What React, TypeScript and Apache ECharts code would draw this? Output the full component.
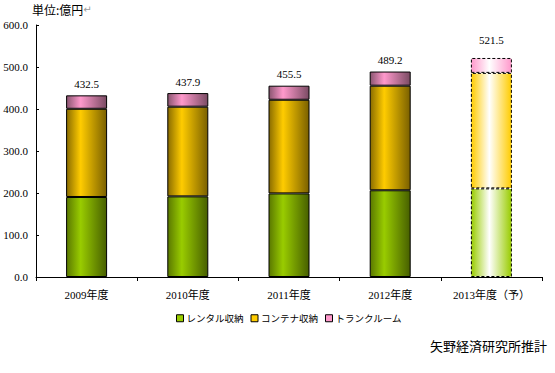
import React, { useEffect, useRef } from "react";
import * as echarts from "echarts";

const categories = ["2009年度", "2010年度", "2011年度", "2012年度", "2013年度（予）"];
const rental = [190.5, 192.0, 199.0, 206.5, 211.0];
const container = [210.0, 213.5, 223.0, 249.0, 275.0];
const trunk = [32.0, 32.4, 33.5, 33.7, 35.5];
const totals = [432.5, 437.9, 455.5, 489.2, 521.5];
const yTicks = [0, 100, 200, 300, 400, 500, 600];
const seriesNames = ["レンタル収納", "コンテナ収納", "トランクルーム"];
const forecastIndex = 4;

const solidGrad = (dark1: string, bright: string, dark2: string) =>
  new echarts.graphic.LinearGradient(0, 0, 1, 0, [
    { offset: 0, color: dark1 },
    { offset: 0.35, color: bright },
    { offset: 1, color: dark2 },
  ]);

const lightGrad = (c: string) =>
  new echarts.graphic.LinearGradient(0, 0, 1, 0, [
    { offset: 0, color: c },
    { offset: 0.45, color: "#ffffff" },
    { offset: 1, color: c },
  ]);

const palettes = [
  { base: "#99cc00", d1: "#5a7800", d2: "#475f00" },
  { base: "#ffcc00", d1: "#8a6c00", d2: "#7a6000" },
  { base: "#ff99cc", d1: "#8a5570", d2: "#7a4b63" },
];

export default function App() {
  const ref = useRef<HTMLDivElement>(null);
  useEffect(() => {
    if (!ref.current) return;
    const chart = echarts.init(ref.current, undefined, { renderer: "svg" });
    const raw = [rental, container, trunk];
    const series: any[] = raw.map((vals, si) => {
      const p = palettes[si];
      return {
        name: seriesNames[si],
        type: "bar",
        stack: "total",
        barWidth: 41,
        itemStyle: {
          color: solidGrad(p.d1, p.base, p.d2),
          borderColor: "#000",
          borderWidth: 1,
        },
        data: vals.map((v, i) =>
          i === forecastIndex
            ? {
                value: v,
                itemStyle: {
                  color: lightGrad(p.base),
                  borderColor: "#000",
                  borderWidth: 1,
                  borderType: [3, 2],
                },
                label: si === 2 ? { distance: 12 } : undefined,
              }
            : v
        ),
        label:
          si === 2
            ? {
                show: true,
                position: "top",
                distance: 6,
                color: "#000",
                fontSize: 11,
                fontFamily: "'Liberation Serif', serif",
                formatter: (pp: any) => totals[pp.dataIndex].toFixed(1),
              }
            : { show: false },
      };
    });
    chart.setOption({
      animation: false,
      backgroundColor: "#fff",
      grid: { left: 36, right: 13, top: 25, bottom: 96 },
      legend: {
        bottom: 45,
        left: 171,
        itemWidth: 7,
        itemHeight: 7,
        itemGap: 7,
        icon: "rect",
        textStyle: {
          fontSize: 9.5,
          color: "#000",
          fontFamily: "'Noto Sans CJK JP', sans-serif",
          padding: [0, 0, 0, -2],
        },
        data: seriesNames.map((n, i) => ({
          name: n,
          itemStyle: { color: palettes[i].base, borderColor: "#000", borderWidth: 1 },
        })),
      },
      xAxis: {
        type: "category",
        data: categories,
        axisLine: { lineStyle: { color: "#000", width: 1 } },
        axisTick: { show: true, length: 4, lineStyle: { color: "#000" } },
        axisLabel: {
          margin: 12,
          color: "#000",
          fontSize: 11,
          fontFamily: "'Liberation Serif', 'Noto Sans CJK JP', serif",
        },
      },
      yAxis: {
        type: "value",
        min: yTicks[0],
        max: yTicks[yTicks.length - 1],
        interval: 100,
        axisLine: { show: true, lineStyle: { color: "#000", width: 1 } },
        axisTick: { show: true, inside: true, length: 3, lineStyle: { color: "#000" } },
        splitLine: { show: false },
        axisLabel: {
          margin: 8,
          color: "#000",
          fontSize: 11,
          fontFamily: "'Liberation Serif', serif",
          formatter: (v: number) => v.toFixed(1),
        },
      },
      graphic: [
        {
          type: "text",
          left: 32,
          top: 3,
          style: {
            text: "{a|単位:億円}{b|↵}",
            rich: {
              a: { fontSize: 12, fill: "#000", fontFamily: "'Noto Sans CJK JP', sans-serif" },
              b: { fontSize: 10, fill: "#999", fontFamily: "'DejaVu Sans', sans-serif" },
            },
          },
        },
        {
          type: "text",
          right: 8,
          top: 339,
          style: {
            text: "矢野経済研究所推計",
            fontSize: 13,
            fill: "#000",
            fontFamily: "'Noto Sans CJK JP', sans-serif",
          },
        },
      ],
      series,
    });
    return () => chart.dispose();
  }, []);
  return <div ref={ref} style={{ width: 555, height: 373, position: "absolute", left: 0, top: 0 }} />;
}
